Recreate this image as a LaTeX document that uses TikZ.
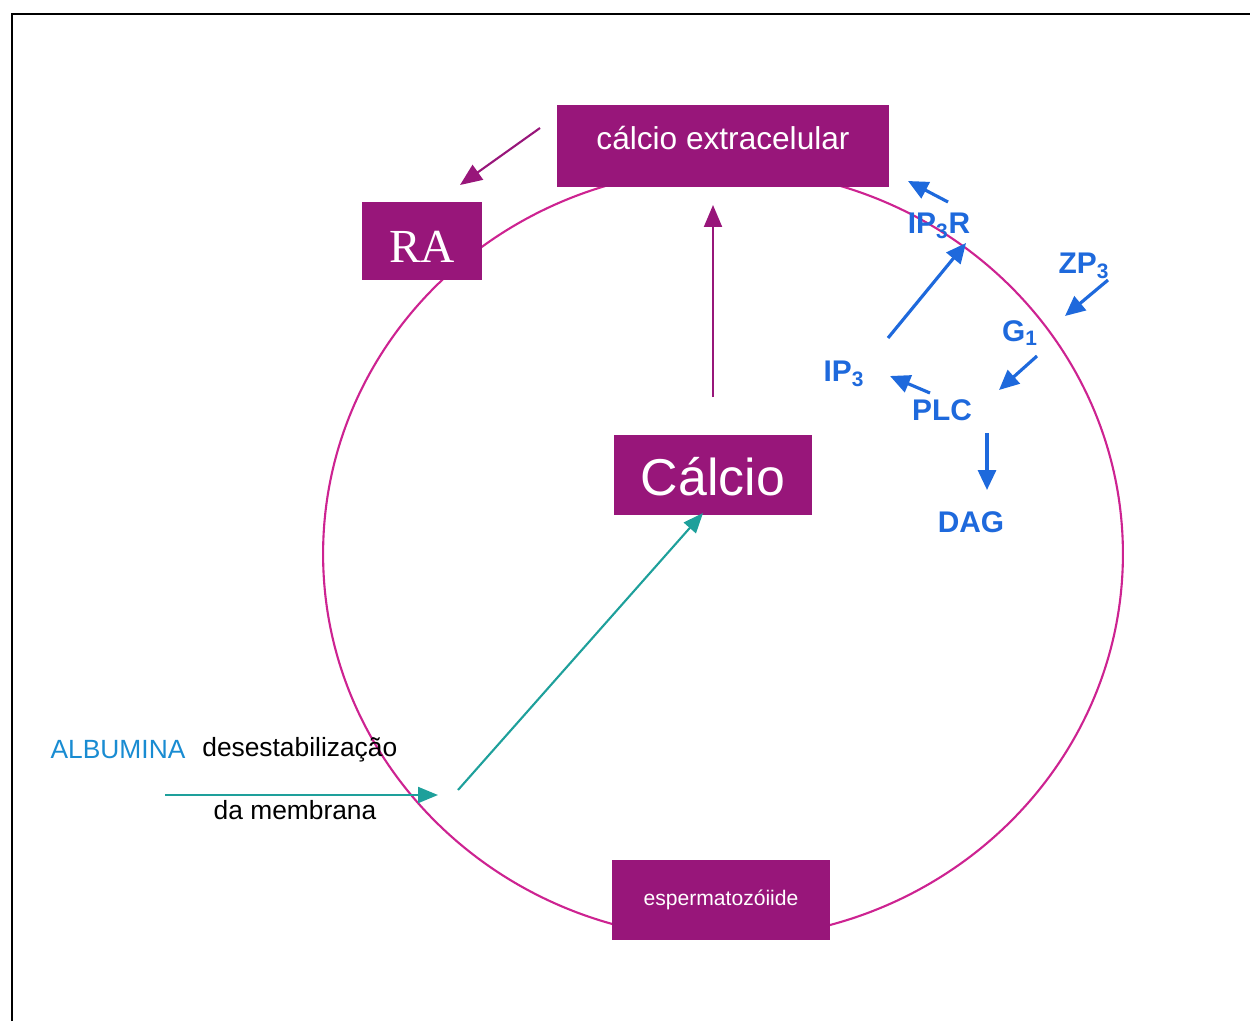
\documentclass[tikz,border=0pt]{standalone}
\usepackage{fontspec}
\setmainfont{Liberation Sans}
\newfontfamily\romanRA{Liberation Serif}
\usepackage{tikz}
\usetikzlibrary{arrows.meta}
\usetikzlibrary{positioning}

\definecolor{boxMag}{RGB}{152,22,122}
\definecolor{ringMag}{RGB}{205,35,145}
\definecolor{sigBlue}{RGB}{30,105,220}
\definecolor{albBlue}{RGB}{25,140,210}
\definecolor{tealArr}{RGB}{30,160,155}

\begin{document}
\begin{tikzpicture}[x=0.02cm, y=-0.02cm, inner sep=0pt]
            \useasboundingbox (0,0) rectangle (1250,1021);

            \tikzstyle{magBox}=[fill=boxMag, text=white];
            \tikzstyle{sigLbl}=[text=sigBlue, font=\bfseries\fontsize{17}{20}\selectfont];
            \tikzstyle{txtLbl}=[font=\fontsize{15}{18}\selectfont];
            \tikzstyle{magArr}=[draw=boxMag, line width=1.2pt, -{Triangle[length=0.44cm, width=0.36cm]}];
            \tikzstyle{tealLine}=[draw=tealArr, line width=1.2pt, -{Triangle[length=0.4cm, width=0.32cm]}];
            \tikzstyle{sigArr}=[draw=sigBlue, line width=1.8pt, -{Triangle[length=0.4cm, width=0.36cm]}];

            % frame
            \draw[line width=1pt] (12,1021) -- (12,14) -- (1250,14);

            % cell
            \draw[ringMag, line width=1.2pt] (723,554) ellipse [x radius=8cm, y radius=7.7cm];

            \node[magBox, minimum width=6.66cm, minimum height=1.64cm, text depth=0.32cm,
                  font=\fontsize{18}{20}\selectfont] (calext) at (723,146) {cálcio extracelular};
            \node[magBox, minimum width=2.4cm, minimum height=1.56cm, text height=0.87cm,
                  font=\romanRA\fontsize{27}{30}\selectfont] (ra) at (422,241) {RA};
            \node[magBox, minimum width=3.96cm, minimum height=1.6cm, text height=0.82cm,
                  font=\fontsize{29.5}{32}\selectfont] (calcio) at (713,475) {Cálcio};
            \node[magBox, minimum width=4.36cm, minimum height=1.6cm,
                  font=\fontsize{12}{14}\selectfont] (esperm) at (721,900) {espermatozóiide};

            \draw[magArr] ([shift={(-183,-18)}]calext.center) -- ([shift={(38,-56)}]ra.center);
            \draw[magArr] ([shift={(0,-78)}]calcio.center) -- ([shift={(-10,59)}]calext.center);

            % signalling
            \node[sigLbl] (ip3r) at (939,226) {IP\textsubscript{3}R};
            \node[sigLbl] (zp3) at (1084,266) {ZP\textsubscript{3}};
            \node[sigLbl] (g1) at (1020,333) {G\textsubscript{1}};
            \node[sigLbl] (ip3) at (844,374) {IP\textsubscript{3}};
            \node[sigLbl] (plc) at (942,410) {PLC};
            \node[sigLbl] (dag) at (971,522) {DAG};

            \draw[sigArr] ([shift={(9,-24)}]ip3r.center) -- ([shift={(-31,-45)}]ip3r.center);
            \draw[sigArr] ([shift={(44,-36)}]ip3.center) -- ([shift={(27,17)}]ip3r.center);
            \draw[sigArr] ([shift={(24,14)}]zp3.center) -- ([shift={(45,-17)}]g1.center);
            \draw[sigArr] ([shift={(17,23)}]g1.center) -- ([shift={(57,-20)}]plc.center);
            \draw[sigArr] ([shift={(-12,-17)}]plc.center) -- ([shift={(46,2)}]ip3.center);
            \draw[sigArr] ([shift={(45,23)}]plc.center) -- ([shift={(16,-32)}]dag.center);

            % albumina
            \node[txtLbl, text=albBlue] (alb) at (118,750) {ALBUMINA};
            \node[txtLbl, anchor=west] (deses) at (202,750) {desestabilização};
            \node[txtLbl] (memb) at (295,810) {da membrana};
            \coordinate (albIn) at (165,795);
            \coordinate (albTip) at (438,795);

            \draw[tealLine] (albIn) -- (albTip);
            \draw[tealLine] ([shift={(20,-5)}]albTip) -- ([shift={(-10,38)}]calcio.center);
         \end{tikzpicture}
\end{document}
